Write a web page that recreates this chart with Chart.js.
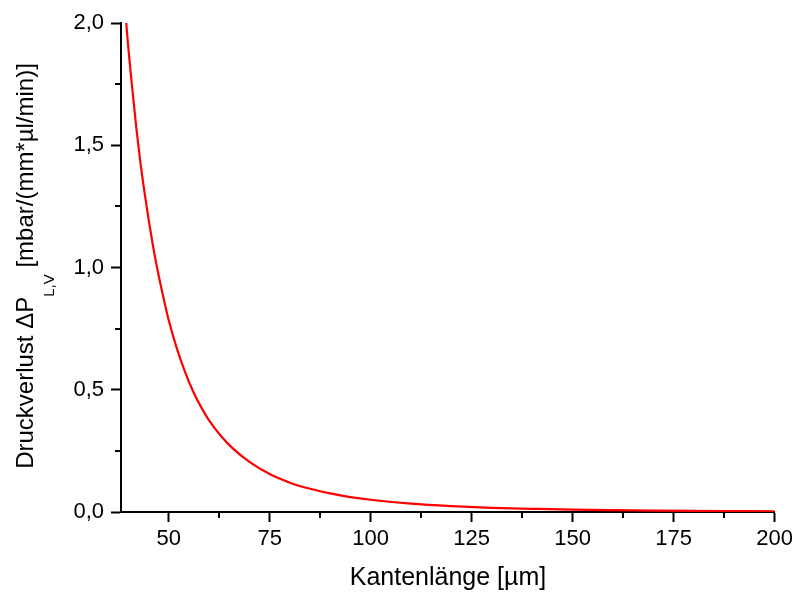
<!DOCTYPE html>
<html>
<head>
<meta charset="utf-8">
<script src="https://cdn.jsdelivr.net/npm/chart.js@4.4.0/dist/chart.umd.min.js"></script>
<style>
  html, body { margin: 0; padding: 0; background: #fff; }
  #wrap { width: 797px; height: 593px; }
</style>
</head>
<body>
<div id="wrap"><canvas id="chart" width="797" height="593"></canvas></div>
<script>
// Kantenlänge (µm) and Druckverlust values
const kantenlaenge = [39.5, 40, 41, 42, 43, 44, 45, 46, 47, 48, 49, 50, 52, 54, 56, 58, 60, 63, 66, 70,
    75, 80, 85, 90, 95, 100, 110, 120, 130, 140, 150, 160, 170, 180, 190, 200];
const druckverlust = [2.00, 1.90, 1.73, 1.57, 1.43, 1.31, 1.20, 1.10, 1.01, 0.93, 0.855, 0.785, 0.67, 0.575, 0.495, 0.43,
    0.375, 0.31, 0.258, 0.205, 0.155, 0.12, 0.095, 0.076, 0.061, 0.05, 0.034, 0.024, 0.017, 0.013, 0.0095,
    0.0075, 0.006, 0.0047, 0.0038, 0.003];

const xTicks = [50, 75, 100, 125, 150, 175, 200];
const xMinorTicks = [62.5, 87.5, 112.5, 137.5, 162.5, 187.5];
const yTicks = [0, 0.5, 1.0, 1.5, 2.0];
const yMinorTicks = [0.25, 0.75, 1.25, 1.75];

const xTitle = 'Kantenlänge [µm]';
const yTitleMain = 'Druckverlust \u0394P';
const yTitleSub = 'L,V';
const yTitleRest = ' [mbar/(mm*µl/min)]';

const FONT = '"Liberation Sans", Arial, sans-serif';

const points = kantenlaenge.map((x, i) => ({ x: x, y: druckverlust[i] }));

// minor ticks + axis titles (the y title needs a subscript)
const extras = {
    id: 'extras',
    afterDraw(chart) {
        const ctx = chart.ctx;
        const xs = chart.scales.x;
        const ys = chart.scales.y;
        const area = chart.chartArea;
        ctx.save();
        ctx.strokeStyle = '#000';
        ctx.lineWidth = 2;
        xMinorTicks.forEach(v => {
            const px = Math.round(xs.getPixelForValue(v));
            ctx.beginPath();
            ctx.moveTo(px, area.bottom);
            ctx.lineTo(px, area.bottom + 6);
            ctx.stroke();
        });
        yMinorTicks.forEach(v => {
            const py = Math.round(ys.getPixelForValue(v));
            ctx.beginPath();
            ctx.moveTo(area.left, py);
            ctx.lineTo(area.left - 6, py);
            ctx.stroke();
        });

        ctx.fillStyle = '#000';
        ctx.textBaseline = 'alphabetic';

        // x title
        ctx.font = '25px ' + FONT;
        ctx.textAlign = 'center';
        ctx.fillText(xTitle, 448, 585);

        // y title, rotated
        const mainFont = '24px ' + FONT;
        const subFont = '15px ' + FONT;
        ctx.font = mainFont;
        const w1 = ctx.measureText(yTitleMain).width;
        const w3 = ctx.measureText(yTitleRest).width;
        ctx.font = subFont;
        const w2 = ctx.measureText(yTitleSub).width;
        const total = w1 + w2 + w3;
        ctx.translate(33, 266);
        ctx.rotate(-Math.PI / 2);
        ctx.textAlign = 'left';
        let pos = -total / 2;
        ctx.font = mainFont;
        ctx.fillText(yTitleMain, pos, 0);
        pos += w1;
        ctx.font = subFont;
        ctx.fillText(yTitleSub, pos, 21);
        pos += w2;
        ctx.font = mainFont;
        ctx.fillText(yTitleRest, pos, 0);
        ctx.restore();
    }
};

new Chart(document.getElementById('chart'), {
    type: 'line',
    data: {
        datasets: [{
            data: points,
            borderColor: '#ff0000',
            borderWidth: 2.2,
            pointRadius: 0,
            fill: false,
            cubicInterpolationMode: 'monotone'
        }]
    },
    options: {
        responsive: false,
        animation: false,
        events: [],
        layout: { padding: { left: 0, right: 21, top: 23, bottom: 0 } },
        plugins: {
            legend: { display: false },
            tooltip: { enabled: false }
        },
        scales: {
            x: {
                type: 'linear',
                min: 38.2,
                max: 200,
                afterBuildTicks: scale => { scale.ticks = xTicks.map(v => ({ value: v })); },
                afterFit: scale => { scale.height = 81; },
                border: { display: true, color: '#000', width: 2 },
                grid: { drawOnChartArea: false, drawTicks: true, tickLength: 10, tickColor: '#000', tickWidth: 2 },
                ticks: {
                    color: '#000',
                    font: { family: FONT, size: 22 },
                    padding: 4,
                    maxRotation: 0,
                    autoSkip: false
                }
            },
            y: {
                type: 'linear',
                min: 0,
                max: 2,
                afterBuildTicks: scale => { scale.ticks = yTicks.map(v => ({ value: v })); },
                afterFit: scale => { scale.width = 121; },
                border: { display: true, color: '#000', width: 2 },
                grid: { drawOnChartArea: false, drawTicks: true, tickLength: 10, tickColor: '#000', tickWidth: 2 },
                ticks: {
                    color: '#000',
                    font: { family: FONT, size: 22 },
                    padding: 7,
                    callback: v => v.toFixed(1).replace('.', ',')
                }
            }
        }
    },
    plugins: [extras]
});
</script>
</body>
</html>
